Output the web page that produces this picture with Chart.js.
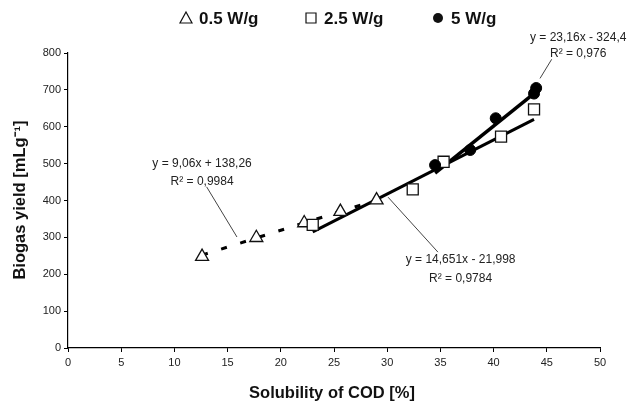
<!DOCTYPE html>
<html>
<head>
<meta charset="utf-8">
<script src="https://cdn.jsdelivr.net/npm/chart.js@4.4.1/dist/chart.umd.min.js"></script>
<style>
  html, body { margin: 0; padding: 0; background: #fff; }
  #wrap { width: 630px; height: 410px; }
</style>
</head>
<body>
<div id="wrap"><canvas id="c" width="630" height="410"></canvas></div>
<script>
// ---- data ----
const seriesNames = ["0.5 W/g", "2.5 W/g", "5 W/g"];
const sol05   = [12.6, 17.7, 22.2, 25.6, 29.0];
const yield05 = [248, 299, 339, 370, 401];
const sol25   = [23.0, 32.4, 35.3, 40.7, 43.8];
const yield25 = [334, 430, 505, 573, 647];
const sol5    = [34.5, 37.8, 40.2, 43.8, 44.0];
const yield5  = [496, 537, 623, 690, 705];

// trend line end points (as read)
const trend05X = [12.6, 29.0];
const trend05Y = [252, 401];
const trend25X = [23.0, 43.8];
const trend25Y = [315, 620];
const trend5X  = [34.5, 44.05];
const trend5Y  = [474, 696];

const xTicks = [0, 5, 10, 15, 20, 25, 30, 35, 40, 45, 50];
const yTicks = [0, 100, 200, 300, 400, 500, 600, 700, 800];

// equation labels (data units) and leader lines
const eqLabels = [
  { lines: ["y = 9,06x + 138,26", "R² = 0,9984"], x: 12.6, y: [499, 450], lead: [[13.03, 437], [15.88, 301]] },
  { lines: ["y = 23,16x - 324,4", "R² = 0,976"], x: 47.95, y: [841, 797], lead: [[45.46, 783], [44.36, 731]] },
  { lines: ["y = 14,651x - 21,998", "R² = 0,9784"], x: 36.9, y: [239, 187], lead: [[30.08, 409], [34.77, 260]] }
];

const pts = (xs, ys) => xs.map((x, i) => ({ x: x, y: ys[i] }));

const legendPlugin = {
  id: 'customLegend',
  afterDraw(chart) {
    const ctx = chart.ctx;
    ctx.save();
    const y = 18;
    const items = [
      { mx: 186, tx: 199, style: 'tri' },
      { mx: 311, tx: 324, style: 'sq' },
      { mx: 438, tx: 451, style: 'dot' }
    ];
    ctx.font = 'bold 17px "Liberation Sans", Arial, sans-serif';
    ctx.fillStyle = '#111';
    ctx.textBaseline = 'middle';
    ctx.textAlign = 'left';
    items.forEach((it, i) => {
      ctx.lineWidth = 1.2;
      ctx.strokeStyle = '#111';
      ctx.beginPath();
      if (it.style === 'tri') {
        ctx.moveTo(it.mx, y - 6); ctx.lineTo(it.mx + 6, y + 5); ctx.lineTo(it.mx - 6, y + 5); ctx.closePath();
        ctx.stroke();
      } else if (it.style === 'sq') {
        ctx.rect(it.mx - 5, y - 5, 10, 10); ctx.stroke();
      } else {
        ctx.arc(it.mx, y, 5, 0, Math.PI * 2); ctx.fill();
      }
      ctx.fillText(seriesNames[i], it.tx, y + 1);
    });

    // axis titles
    const xs = chart.scales.x, ys = chart.scales.y;
    ctx.font = 'bold 16.5px "Liberation Sans", Arial, sans-serif';
    ctx.textAlign = 'center';
    ctx.fillText('Solubility of COD [%]', 332, 393);
    ctx.save();
    ctx.translate(20, 200);
    ctx.rotate(-Math.PI / 2);
    ctx.font = 'bold 16.5px "Liberation Sans", Arial, sans-serif';
    ctx.fillText('Biogas yield [mLg⁻¹]', 0, 0);
    ctx.restore();

    // equation labels
    ctx.font = '12px "Liberation Sans", Arial, sans-serif';
    ctx.fillStyle = '#222';
    eqLabels.forEach(l => {
      const px = xs.getPixelForValue(l.x);
      l.lines.forEach((t, k) => {
        ctx.fillText(t, px, ys.getPixelForValue(l.y[k]));
      });
      ctx.strokeStyle = '#444';
      ctx.lineWidth = 1;
      ctx.beginPath();
      ctx.moveTo(xs.getPixelForValue(l.lead[0][0]), ys.getPixelForValue(l.lead[0][1]));
      ctx.lineTo(xs.getPixelForValue(l.lead[1][0]), ys.getPixelForValue(l.lead[1][1]));
      ctx.stroke();
    });
    ctx.restore();
  }
};

new Chart(document.getElementById('c'), {
  type: 'scatter',
  data: {
    datasets: [
      { label: seriesNames[2], data: pts(sol5, yield5), pointStyle: 'circle', pointRadius: 5.5,
        backgroundColor: '#000', borderColor: '#000', borderWidth: 1, order: 0 },
      { label: seriesNames[1], data: pts(sol25, yield25), pointStyle: 'rect', pointRadius: 7.8,
        backgroundColor: '#fff', borderColor: '#111', borderWidth: 1.3, order: 1 },
      { label: seriesNames[0], data: pts(sol05, yield05), pointStyle: 'triangle', pointRadius: 7.5,
        backgroundColor: '#fff', borderColor: '#111', borderWidth: 1.3, order: 2 },
      { label: 'trend 5', data: pts(trend5X, trend5Y), showLine: true, pointRadius: 0,
        borderColor: '#000', borderWidth: 3.5, order: 3 },
      { label: 'trend 2.5', data: pts(trend25X, trend25Y), showLine: true, pointRadius: 0,
        borderColor: '#000', borderWidth: 3, order: 4 },
      { label: 'trend 0.5', data: pts(trend05X, trend05Y), showLine: true, pointRadius: 0,
        borderColor: '#000', borderWidth: 3, borderDash: [6, 14], order: 5 }
    ]
  },
  options: {
    responsive: false,
    animation: false,
    events: [],
    layout: { padding: { top: 53, right: 30, left: 0, bottom: 0 } },
    plugins: { legend: { display: false }, tooltip: { enabled: false } },
    scales: {
      x: {
        type: 'linear', min: 0, max: 50,
        afterBuildTicks: s => { s.ticks = xTicks.map(v => ({ value: v })); },
        afterFit: s => { s.height = 410 - 348; },
        grid: { display: true, drawOnChartArea: false, drawTicks: true, tickLength: 4, color: '#000' },
        border: { display: true, color: '#000', width: 1.2 },
        ticks: { color: '#222', font: { family: '"Liberation Sans", Arial, sans-serif', size: 11 }, padding: 4, maxRotation: 0 }
      },
      y: {
        type: 'linear', min: 0, max: 800,
        afterBuildTicks: s => { s.ticks = yTicks.map(v => ({ value: v })); },
        afterFit: s => { s.width = 68; },
        grid: { display: true, drawOnChartArea: false, drawTicks: true, tickLength: 4, color: '#000' },
        border: { display: true, color: '#000', width: 1.2 },
        ticks: { color: '#222', font: { family: '"Liberation Sans", Arial, sans-serif', size: 11 }, padding: 3 }
      }
    }
  },
  plugins: [legendPlugin]
});
</script>
</body>
</html>
